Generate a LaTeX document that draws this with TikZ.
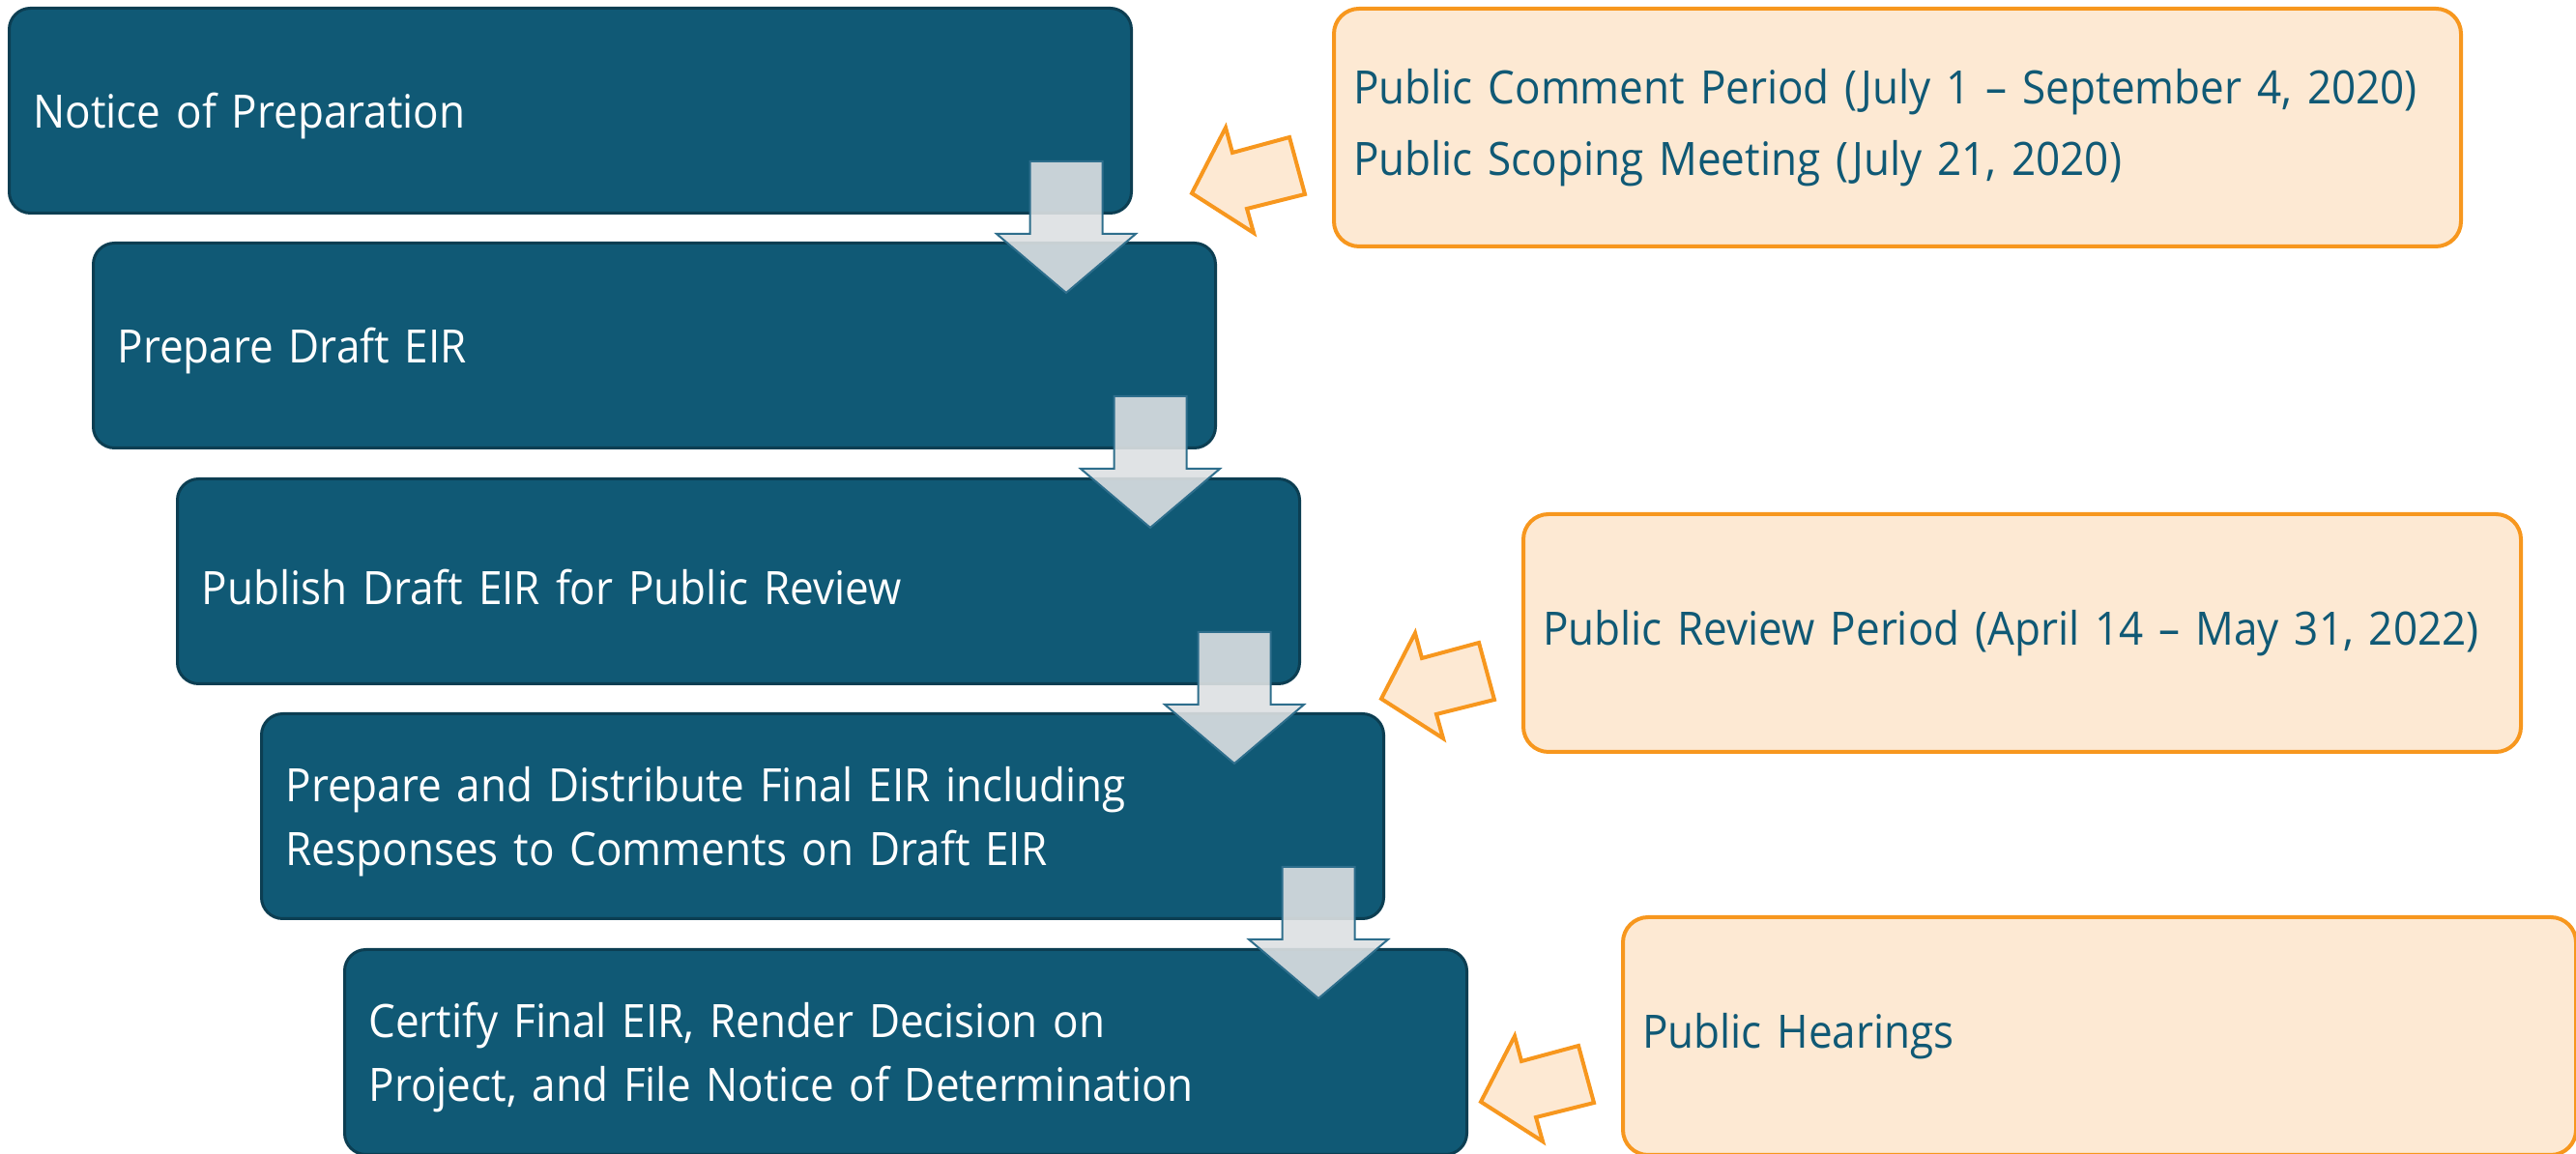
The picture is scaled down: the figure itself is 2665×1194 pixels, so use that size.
\documentclass[tikz,border=0pt]{standalone}
\usepackage{fontspec}
\setmainfont[FakeStretch=0.925]{Open Sans}
\definecolor{boxblue}{RGB}{16,89,117}
\definecolor{boxedge}{RGB}{12,62,82}
\definecolor{orfill}{RGB}{253,233,211}
\definecolor{oredge}{RGB}{247,151,30}
\definecolor{grayfill}{RGB}{221,224,226}
\definecolor{grayedge}{RGB}{46,110,140}
\begin{document}
\begin{tikzpicture}[x=0.25pt,y=-0.25pt,
  bluebox/.style={draw=boxedge, line width=0.75pt, fill=boxblue, rounded corners=5.5pt,
    minimum width=290.25pt, minimum height=53pt, text width=277.75pt, inner xsep=6.25pt,
    inner ysep=0pt, align=left, anchor=north west, text=white,
    font=\fontsize{11.9}{16.5}\selectfont, execute at begin node={\rule{0pt}{12pt}}},
  orbox/.style={draw=oredge, line width=1pt, fill=orfill, rounded corners=6.5pt,
    minimum height=61.5pt, inner xsep=5pt, inner ysep=0pt, align=left,
    anchor=north west, text=boxblue, font=\fontsize{11.9}{18.5}\selectfont},
  downarrow/.style={draw=grayedge, line width=0.5pt, fill=grayfill, fill opacity=0.9},
  sidearrow/.style={draw=oredge, line width=1pt, fill=orfill, line join=miter}
]
\useasboundingbox (0,0) rectangle (2665,1194);

\node[bluebox] (b1) at (8,7) {Notice of Preparation};
\node[bluebox] (b2) at (95,250) {Prepare Draft EIR};
\node[bluebox] (b3) at (182,494) {Publish Draft EIR for Public Review};
\node[bluebox] (b4) at (269,737) {Prepare and Distribute Final EIR including\\Responses to Comments on Draft EIR};
\node[bluebox] (b5) at (355,981) {Certify Final EIR, Render Decision on\\Project, and File Notice of Determination};

\node[orbox, minimum width=291.5pt, text width=281.5pt] (o1) at (1378,7)
  {Public Comment Period (July 1 – September 4, 2020)\\Public Scoping Meeting (July 21, 2020)};
\node[orbox, minimum width=258pt, text width=248pt] (o2) at (1574,530)
  {Public Review Period (April 14 – May 31, 2022)};
\node[orbox, minimum width=246.5pt, text width=236.5pt] (o3) at (1677,947)
  {Public Hearings};

\foreach \b in {b1,b2,b3,b4}{
  \draw[downarrow] ([shift={(-69,81)}]\b.south east) -- ++(72,-61) -- ++(-34.5,0)
    -- ++(0,-75) -- ++(-75,0) -- ++(0,75) -- ++(-34.5,0) -- cycle;
}

\foreach \o in {o1,o2,o3}{
  \draw[sidearrow] ([shift={(-145,68)}]\o.west) -- ++(35,-68) -- ++(7,26) -- ++(59,-16)
    -- ++(16,59) -- ++(-60,15) -- ++(7,25) -- cycle;
}
\end{tikzpicture}
\end{document}
